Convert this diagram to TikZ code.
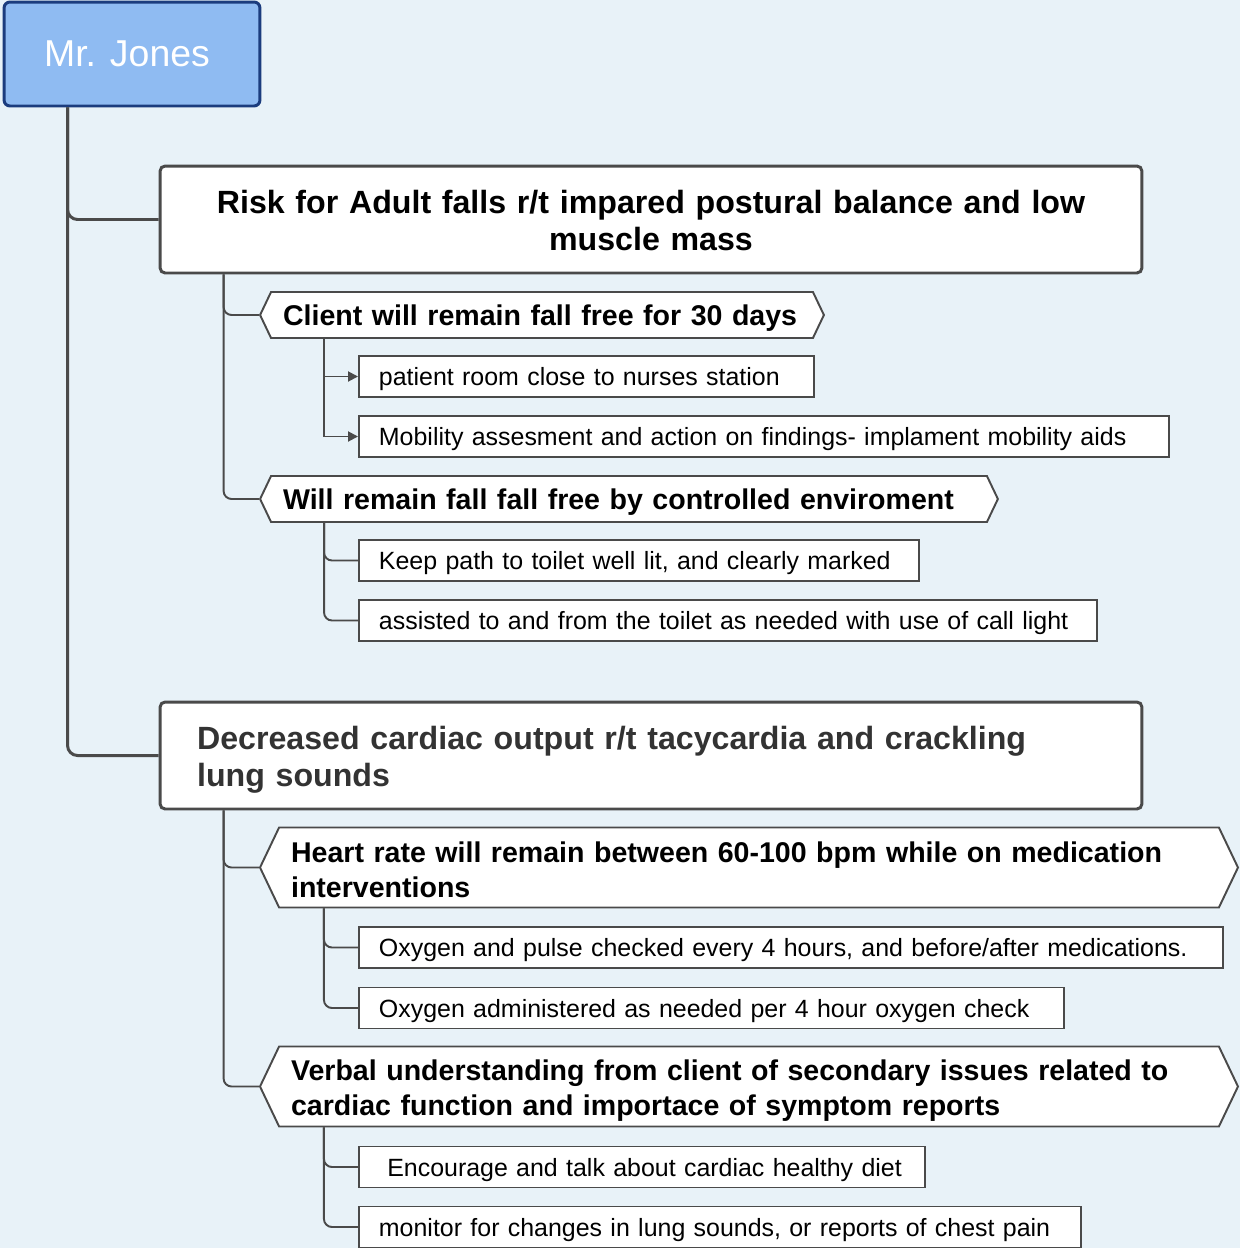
\documentclass[tikz,border=0pt]{standalone}
\usepackage{fontspec}
\setmainfont{Liberation Sans}
\usetikzlibrary{shapes.symbols,arrows.meta}
\definecolor{bgblue}{HTML}{E8F2F8}
\definecolor{rootfill}{HTML}{8FBBF2}
\definecolor{rootline}{HTML}{1B3C7E}
\definecolor{linegray}{HTML}{4A4A4A}
\definecolor{textgray}{HTML}{333333}
\begin{document}
\begin{tikzpicture}[x=0.02cm, y=-0.02cm,
    rootbox/.style={draw=rootline, fill=rootfill, line width=1.7pt, rounded corners=0.12cm,
      minimum width=5.12cm, minimum height=2.08cm, text=white,
      font=\fontsize{21.3}{25}\selectfont},
    issue/.style={draw=linegray, fill=white, line width=1.7pt, rounded corners=0.1cm,
      text width=18.16cm, inner xsep=0.74cm, inner ysep=0pt, minimum height=2.14cm,
      text depth=0.72cm, font=\fontsize{18.3}{21.5}\bfseries\selectfont},
    goal/.style={signal, signal to=west and east, signal pointer angle=129,
      draw=linegray, fill=white, line width=1.1pt, align=left,
      inner xsep=0.24cm, inner ysep=0pt, text depth=0pt,
      font=\fontsize{16.25}{19.8}\bfseries\selectfont},
    act/.style={draw=linegray, fill=white, line width=1.1pt, anchor=west, align=left,
      inner xsep=0.4cm, inner ysep=0pt, minimum height=0.82cm, text depth=0pt,
      font=\fontsize{14.2}{17}\selectfont},
    trunk/.style={draw=linegray, line width=1.7pt, rounded corners=0.2cm},
    branch/.style={draw=linegray, line width=1.1pt, rounded corners=0.16cm}]
    \fill[bgblue] (0,0) rectangle (1240,1248);
    \useasboundingbox (0,0) rectangle (1240,1248);

    \node[rootbox] (root) at (132,54) {Mr. Jones\kern0.2cm};

    \node[issue, align=center] (risk) at (651,219.5) {Risk for Adult falls r/t impared postural balance and low\\muscle mass};
    \node[issue, align=left, text=textgray] (cardiac) at (651,755.5) {Decreased cardiac output r/t tacycardia and crackling\\lung sounds};

    \node[goal, text width=10.36cm, minimum height=0.92cm] (free) at (542,315) {Client will remain fall free for 30 days};
    \node[goal, text width=13.84cm, minimum height=0.92cm] (enviro) at (629,499) {Will remain fall fall free by controlled enviroment};
    \node[goal, text width=18.32cm, minimum height=1.6cm, text depth=0.62cm] (heart) at (749,867.5) {Heart rate will remain between 60-100 bpm while on medication\\interventions};
    \node[goal, text width=18.32cm, minimum height=1.6cm, text depth=0.64cm] (verbal) at (749,1086.5) {Verbal understanding from client of secondary issues related to\\cardiac function and importace of symptom reports};

    \node[act, text width=8.3cm] (room) at (358,376.5) {patient room close to nurses station};
    \node[act, text width=15.4cm] (mobility) at (358,436.5) {Mobility assesment and action on findings- implament mobility aids};
    \node[act, text width=10.4cm] (path) at (358,560.5) {Keep path to toilet well lit, and clearly marked};
    \node[act, text width=13.96cm] (toilet) at (358,620.5) {assisted to and from the toilet as needed with use of call light};
    \node[act, text width=16.48cm] (pulse) at (358,947.5) {Oxygen and pulse checked every 4 hours, and before/after medications.};
    \node[act, text width=13.3cm] (oxygen) at (358,1008) {Oxygen administered as needed per 4 hour oxygen check};
    \node[act, text width=10.52cm] (diet) at (358,1167) {~Encourage and talk about cardiac healthy diet};
    \node[act, text width=13.64cm] (lungs) at (358,1227) {monitor for changes in lung sounds, or reports of chest pain};

    \path (root.south west) ++(65,0) coordinate (rootfoot);
    \draw[trunk] (rootfoot) |- (risk.west);
    \draw[trunk] (rootfoot) |- (cardiac.west);

    \path (risk.south west) ++(65,0) coordinate (riskfoot);
    \draw[branch] (riskfoot) |- (free.west);
    \draw[branch] (riskfoot) |- (enviro.west);
    \path (cardiac.south west) ++(65,0) coordinate (cardiacfoot);
    \draw[branch] (cardiacfoot) |- (heart.west);
    \draw[branch] (cardiacfoot) |- (verbal.west);

    \path (free.west |- free.south) ++(65,0) coordinate (freefoot);
    \draw[branch, sharp corners, -{Triangle[length=0.2cm,width=0.2cm]}] (freefoot) |- (room.west);
    \draw[branch, sharp corners, -{Triangle[length=0.2cm,width=0.2cm]}] (freefoot) |- (mobility.west);
    \foreach \g/\a/\b in {enviro/path/toilet, heart/pulse/oxygen, verbal/diet/lungs} {
      \path (\g.west |- \g.south) ++(65,0) coordinate (\g foot);
      \draw[branch] (\g foot) |- (\a.west);
      \draw[branch] (\g foot) |- (\b.west);
    }
\end{tikzpicture}
\end{document}
